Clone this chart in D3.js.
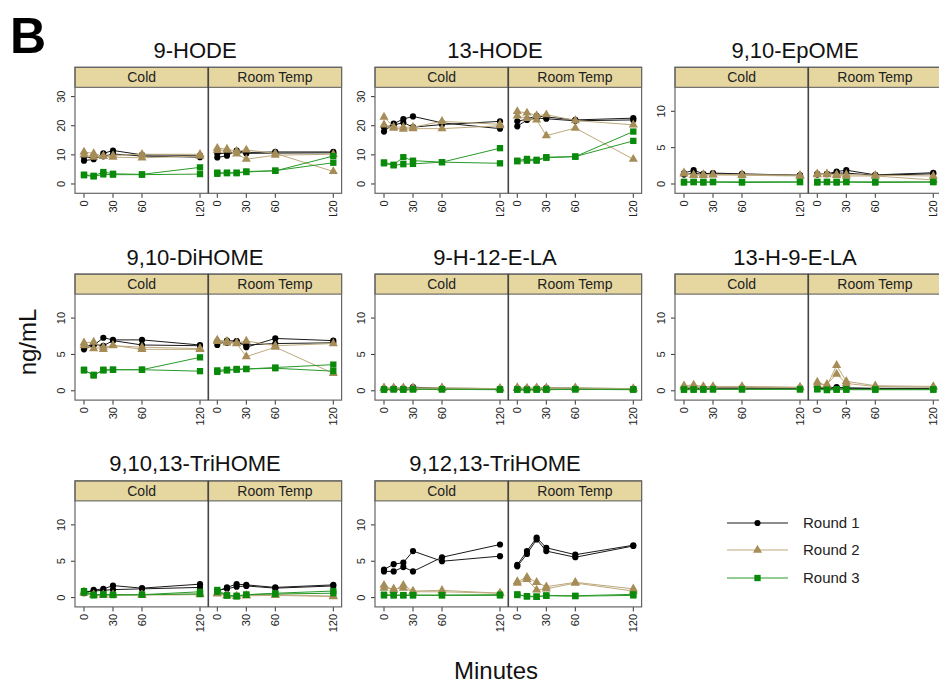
<!DOCTYPE html>
<html>
<head>
<meta charset="utf-8">
<script src="https://cdn.jsdelivr.net/npm/d3@7"></script>
<style>
  body { margin: 0; background: #fff; }
  svg { display: block; font-family: "Liberation Sans", Arial, Helvetica, sans-serif; }
</style>
</head>
<body>
<svg id="chart" width="939" height="684"></svg>
<script>
// sampling times (minutes) and labels
var times = [0, 10, 20, 30, 60, 120];
var xTicks = [0, 30, 60, 120];
var conditions = ["Cold", "Room Temp"];
var rounds = ["Round 1", "Round 2", "Round 3"];
var compounds = ["9-HODE", "13-HODE", "9,10-EpOME", "9,10-DiHOME", "9-H-12-E-LA",
  "13-H-9-E-LA", "9,10,13-TriHOME", "9,12,13-TriHOME"];
var yTopTick = [30, 30, 10, 10, 10, 10, 10, 10];

// each condition: two replicate series per round -> R1a, R1b, R2a, R2b, R3a, R3b
var hode9Cold = [
  [8.0, 8.5, 10.5, 11.5, 10.0, 9.8], [9.3, 9.0, 9.5, 10.3, 9.6, 9.2],
  [11.0, 10.5, 9.5, 9.8, 10.2, 10.2], [10.0, 9.2, 9.6, 9.2, 9.0, 9.6],
  [3.2, 2.8, 4.1, 3.5, 3.3, 5.7], [3.0, 2.6, 3.3, 3.2, 3.2, 3.4]];
var hode9Rt = [
  [9.1, 9.7, 11.5, 10.8, 11.0, 11.0], [10.4, 10.6, 11.0, 10.5, 10.6, 10.7],
  [12.3, 12.0, 11.2, 11.7, 10.5, 4.3], [11.5, 11.6, 10.3, 8.5, 9.9, 10.2],
  [3.9, 3.7, 3.9, 4.3, 4.5, 9.6], [3.5, 3.9, 3.7, 4.1, 4.6, 7.3]];
var hode13Cold = [
  [18.0, 20.7, 22.3, 23.2, 21.0, 19.0], [19.5, 20.2, 21.1, 19.5, 20.4, 21.5],
  [23.0, 19.6, 19.5, 19.5, 21.5, 20.5], [20.3, 19.2, 18.8, 19.0, 19.0, 20.0],
  [7.4, 6.6, 9.2, 8.0, 7.5, 12.3], [7.1, 6.4, 6.8, 6.9, 7.5, 7.1]];
var hode13Rt = [
  [21.5, 22.3, 23.4, 23.0, 22.0, 22.6], [19.8, 22.0, 22.6, 22.4, 21.7, 22.0],
  [24.9, 24.4, 23.5, 23.8, 21.8, 20.3], [23.4, 22.5, 22.0, 16.6, 19.2, 8.5],
  [8.0, 8.6, 8.3, 9.2, 9.4, 18.0], [7.8, 8.0, 8.0, 9.0, 9.4, 14.8]];
var epomeCold = [
  [1.5, 1.9, 1.4, 1.5, 1.4, 1.2], [1.3, 1.5, 1.3, 1.4, 1.3, 1.2],
  [1.55, 1.25, 1.3, 1.3, 1.3, 1.2], [1.4, 1.2, 1.2, 1.25, 1.2, 1.1],
  [0.3, 0.3, 0.3, 0.3, 0.3, 0.3], [0.2, 0.25, 0.2, 0.25, 0.2, 0.25]];
var epomeRt = [
  [1.4, 1.4, 1.7, 1.9, 1.25, 1.55], [1.3, 1.35, 1.5, 1.5, 1.2, 1.4],
  [1.4, 1.4, 1.3, 1.3, 1.2, 1.1], [1.3, 1.3, 1.2, 1.1, 1.1, 0.55],
  [0.3, 0.3, 0.3, 0.3, 0.3, 0.3], [0.2, 0.25, 0.2, 0.25, 0.2, 0.25]];
var dihomeCold = [
  [5.7, 6.25, 7.3, 7.0, 7.0, 6.3], [6.0, 6.4, 6.2, 6.9, 6.3, 6.2],
  [6.6, 6.7, 5.7, 6.25, 5.7, 5.7], [6.2, 5.8, 6.0, 6.2, 6.0, 5.8],
  [2.9, 2.1, 2.9, 2.9, 2.9, 4.6], [2.8, 2.2, 2.8, 2.9, 2.9, 2.7]];
var dihomeRt = [
  [6.3, 6.9, 6.85, 6.0, 7.2, 6.9], [6.8, 6.6, 6.8, 6.3, 6.5, 6.6],
  [7.0, 6.8, 6.6, 6.85, 6.2, 6.5], [6.8, 6.6, 6.5, 4.7, 6.0, 2.4],
  [2.8, 2.9, 3.0, 3.0, 3.2, 3.6], [2.6, 2.8, 2.9, 3.0, 3.1, 2.7]];
var h12laCold = [
  [0.3, 0.35, 0.35, 0.5, 0.35, 0.3], [0.25, 0.3, 0.3, 0.35, 0.3, 0.25],
  [0.4, 0.4, 0.4, 0.4, 0.4, 0.3], [0.35, 0.3, 0.35, 0.3, 0.35, 0.3],
  [0.2, 0.2, 0.2, 0.2, 0.2, 0.2], [0.15, 0.2, 0.15, 0.2, 0.2, 0.15]];
var h12laRt = [
  [0.35, 0.3, 0.35, 0.4, 0.35, 0.3], [0.3, 0.25, 0.3, 0.3, 0.3, 0.25],
  [0.45, 0.35, 0.4, 0.4, 0.4, 0.3], [0.35, 0.3, 0.3, 0.3, 0.35, 0.25],
  [0.2, 0.15, 0.2, 0.2, 0.2, 0.2], [0.15, 0.1, 0.15, 0.15, 0.2, 0.15]];
var h9laCold = [
  [0.35, 0.4, 0.35, 0.4, 0.4, 0.4], [0.3, 0.3, 0.3, 0.35, 0.35, 0.35],
  [0.7, 0.8, 0.6, 0.6, 0.6, 0.5], [0.5, 0.6, 0.5, 0.5, 0.5, 0.45],
  [0.2, 0.2, 0.2, 0.2, 0.2, 0.2], [0.15, 0.15, 0.15, 0.2, 0.2, 0.2]];
var h9laRt = [
  [0.45, 0.35, 0.5, 0.4, 0.35, 0.35], [0.35, 0.3, 0.4, 0.35, 0.3, 0.3],
  [1.2, 0.7, 3.5, 1.3, 0.7, 0.6], [0.8, 0.9, 2.3, 1.0, 0.6, 0.5],
  [0.25, 0.15, 0.2, 0.2, 0.2, 0.2], [0.2, 0.1, 0.15, 0.15, 0.15, 0.15]];
var trihome10Cold = [
  [0.6, 1.05, 1.2, 1.65, 1.3, 1.85], [0.8, 0.9, 1.0, 1.1, 1.2, 1.4],
  [0.8, 0.4, 0.4, 0.4, 0.4, 0.5], [0.6, 0.35, 0.35, 0.35, 0.35, 0.4],
  [0.9, 0.4, 0.45, 0.4, 0.4, 0.8], [0.7, 0.3, 0.4, 0.35, 0.4, 0.5]];
var trihome10Rt = [
  [0.9, 1.4, 1.85, 1.75, 1.4, 1.75], [1.0, 1.2, 1.5, 1.6, 1.3, 1.6],
  [0.6, 0.3, 0.2, 0.3, 0.4, 0.2], [0.5, 0.25, 0.2, 0.25, 0.3, 0.15],
  [1.05, 0.3, 0.15, 0.4, 0.6, 0.9], [0.8, 0.3, 0.25, 0.4, 0.5, 0.6]];
var trihome12Cold = [
  [3.85, 4.6, 4.8, 6.4, 5.0, 5.7], [3.6, 3.6, 4.2, 3.6, 5.55, 7.3],
  [1.7, 1.0, 1.7, 0.9, 1.0, 0.6], [1.3, 1.2, 1.3, 0.8, 0.8, 0.6],
  [0.4, 0.35, 0.35, 0.35, 0.35, 0.4], [0.3, 0.3, 0.3, 0.3, 0.3, 0.3]];
var trihome12Rt = [
  [4.5, 6.4, 8.25, 6.85, 5.9, 7.2], [4.3, 6.0, 8.0, 6.4, 5.55, 7.1],
  [2.2, 2.8, 2.1, 1.5, 2.1, 1.2], [2.0, 2.5, 1.05, 1.2, 2.0, 0.9],
  [0.45, 0.15, 0.1, 0.3, 0.25, 0.45], [0.35, 0.2, 0.15, 0.25, 0.2, 0.3]];

var panelData = [
  [hode9Cold, hode9Rt], [hode13Cold, hode13Rt], [epomeCold, epomeRt],
  [dihomeCold, dihomeRt], [h12laCold, h12laRt], [h9laCold, h9laRt],
  [trihome10Cold, trihome10Rt], [trihome12Cold, trihome12Rt]];

// look of the three rounds
var lineColor = ["#1a1a1a", "#bda97c", "#2a9a2a"];
var markColor = ["#000000", "#a68d58", "#0a8a0a"];
var markShape = [d3.symbolCircle, d3.symbolTriangle, d3.symbolSquare];
var markSize = [30, 36, 40];

var svg = d3.select("#chart");
svg.append("rect").attr("width", 939).attr("height", 684).attr("fill", "#fff");

// layout
var colLeft = [75, 375, 675];
var facetW = 133.3;
var plotH = 106;
var stripH = 20;
var rowBottom = [193.3, 400.1, 606.9];

// clip for the first row x labels (cut off in the original)
svg.append("clipPath").attr("id", "row0clip")
  .append("rect").attr("x", 0).attr("y", 0).attr("width", 939).attr("height", 216);

compounds.forEach(function (name, p) {
  var row = Math.floor(p / 3), col = p % 3;
  var left = colLeft[col];
  var bottom = rowBottom[row];
  var top = bottom - plotH;
  var stripTop = top - stripH;
  var g = svg.append("g");

  var ymax = yTopTick[p];
  var y = d3.scaleLinear()
    .domain(ymax === 30 ? [-3.2, 33.2] : [-1.28, 13.3])
    .range([bottom, top]);
  var yt = ymax === 30 ? [0, 10, 20, 30] : [0, 5, 10];

  // title
  g.append("text").attr("x", left + 120).attr("y", stripTop - 9.5)
    .attr("text-anchor", "middle").attr("font-size", 22).attr("fill", "#111")
    .text(name);

  // y axis (rotated labels)
  var yAxis = g.append("g").attr("transform", "translate(" + left + ",0)");
  yt.forEach(function (v) {
    yAxis.append("line").attr("x1", -4).attr("x2", 0)
      .attr("y1", y(v)).attr("y2", y(v)).attr("stroke", "#333");
    yAxis.append("text")
      .attr("transform", "translate(-10," + y(v) + ") rotate(-90)")
      .attr("text-anchor", "middle").attr("font-size", 11).attr("fill", "#222")
      .text(v);
  });

  var xlab = g.append("g");
  if (row === 0) xlab.attr("clip-path", "url(#row0clip)");

  conditions.forEach(function (cond, c) {
    var fl = left + c * facetW;
    var x = d3.scaleLinear().domain([0, 120]).range([fl + 9, fl + 125]);

    // strip
    g.append("rect").attr("x", fl).attr("y", stripTop)
      .attr("width", facetW).attr("height", stripH)
      .attr("fill", "#e6d7a1").attr("stroke", "#555").attr("stroke-width", 1);
    g.append("text").attr("x", fl + facetW / 2).attr("y", stripTop + 15)
      .attr("text-anchor", "middle").attr("font-size", 14).attr("fill", "#222")
      .text(cond);

    // x ticks
    xTicks.forEach(function (t) {
      xlab.append("line").attr("x1", x(t)).attr("x2", x(t))
        .attr("y1", bottom).attr("y2", bottom + 4.5).attr("stroke", "#333");
      xlab.append("text")
        .attr("transform", "translate(" + (x(t) + 4) + "," + (bottom + 7) + ") rotate(-90)")
        .attr("text-anchor", "end").attr("font-size", 11).attr("fill", "#222")
        .text(t);
    });

    var line = d3.line()
      .x(function (d, i) { return x(times[i]); })
      .y(function (d) { return y(d); });

    var series = panelData[p][c];
    series.forEach(function (vals, s) {
      var r = Math.floor(s / 2);
      g.append("path").datum(vals).attr("d", line)
        .attr("fill", "none").attr("stroke", lineColor[r]).attr("stroke-width", 1);
      g.selectAll(null).data(vals).enter().append("path")
        .attr("transform", function (d, i) { return "translate(" + x(times[i]) + "," + y(d) + ")"; })
        .attr("d", d3.symbol().type(markShape[r]).size(markSize[r]))
        .attr("fill", markColor[r]);
    });
  });

  // panel frame and divider
  g.append("rect").attr("x", left).attr("y", stripTop)
    .attr("width", facetW * 2).attr("height", plotH + stripH)
    .attr("fill", "none").attr("stroke", "#666").attr("stroke-width", 1.2);
  g.append("line").attr("x1", left + facetW).attr("x2", left + facetW)
    .attr("y1", stripTop).attr("y2", bottom)
    .attr("stroke", "#444").attr("stroke-width", 1.6);
});

// legend
var legend = svg.append("g");
var legY = [523, 550, 578];
rounds.forEach(function (name, r) {
  legend.append("line").attr("x1", 727).attr("x2", 788)
    .attr("y1", legY[r]).attr("y2", legY[r])
    .attr("stroke", lineColor[r]).attr("stroke-width", 1.2);
  legend.append("path")
    .attr("transform", "translate(757.5," + legY[r] + ")")
    .attr("d", d3.symbol().type(markShape[r]).size(markSize[r]))
    .attr("fill", markColor[r]);
  legend.append("text").attr("x", 803).attr("y", legY[r] + 5)
    .attr("font-size", 15).attr("fill", "#222").text(name);
});

// axis titles and panel letter
svg.append("text").attr("transform", "translate(36,342) rotate(-90)")
  .attr("text-anchor", "middle").attr("font-size", 24).attr("fill", "#111")
  .text("ng/mL");
svg.append("text").attr("x", 496).attr("y", 679)
  .attr("text-anchor", "middle").attr("font-size", 24).attr("fill", "#111")
  .text("Minutes");
svg.append("text").attr("x", 10).attr("y", 53)
  .attr("font-size", 50).attr("font-weight", "bold").attr("fill", "#000")
  .text("B");
</script>
</body>
</html>
